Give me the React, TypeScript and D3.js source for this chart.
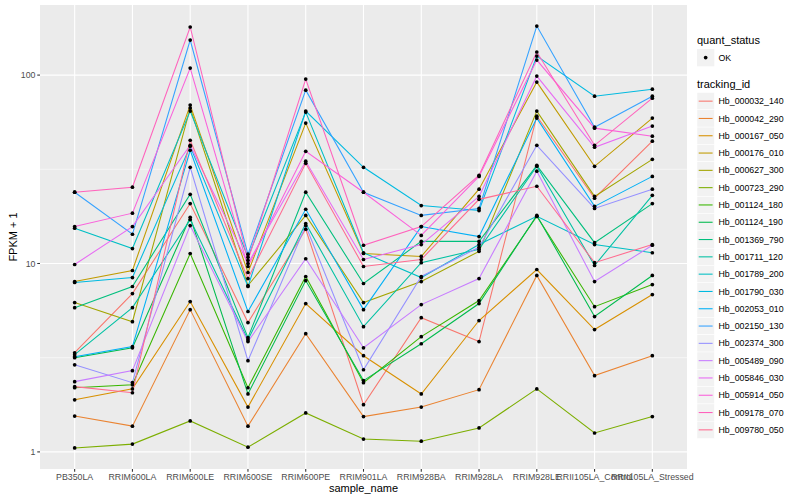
import * as d3 from "d3";

const samples = [
  "PB350LA",
  "RRIM600LA",
  "RRIM600LE",
  "RRIM600SE",
  "RRIM600PE",
  "RRIM901LA",
  "RRIM928BA",
  "RRIM928LA",
  "RRIM928LE",
  "RRII105LA_Control",
  "RRII105LA_Stressed",
];

const trackingIds = [
  "Hb_000032_140",
  "Hb_000042_290",
  "Hb_000167_050",
  "Hb_000176_010",
  "Hb_000627_300",
  "Hb_000723_290",
  "Hb_001124_180",
  "Hb_001124_190",
  "Hb_001369_790",
  "Hb_001711_120",
  "Hb_001789_200",
  "Hb_001790_030",
  "Hb_002053_010",
  "Hb_002150_130",
  "Hb_002374_300",
  "Hb_005489_090",
  "Hb_005846_030",
  "Hb_005914_050",
  "Hb_009178_070",
  "Hb_009780_050",
];

// FPKM + 1, one value per sample
const hb000032_140 = [3.36, 6.92, 20.8, 4.86, 15.2, 1.78, 5.16, 3.85, 60.5, 22.2, 44.6];
const hb000042_290 = [1.55, 1.37, 5.69, 1.37, 4.24, 1.54, 1.73, 2.14, 8.64, 2.54, 3.24];
const hb000167_050 = [1.89, 2.16, 6.28, 1.73, 6.13, 3.24, 2.03, 4.98, 9.29, 4.46, 6.84];
const hb000176_010 = [8.02, 9.18, 69.3, 8.96, 55.6, 11.3, 10.9, 24.8, 91.8, 32.8, 59.1];
const hb000627_300 = [6.2, 4.91, 66.8, 7.64, 18.0, 6.2, 8.02, 11.6, 64.4, 22.7, 35.7];
const hb000723_290 = [1.05, 1.1, 1.46, 1.06, 1.61, 1.17, 1.14, 1.34, 2.16, 1.26, 1.54];
const hb001124_180 = [2.19, 2.27, 11.3, 2.19, 8.53, 2.33, 4.09, 6.36, 17.8, 5.9, 7.73];
const hb001124_190 = [3.16, 3.57, 17.6, 2.03, 8.12, 2.39, 3.75, 6.13, 18.0, 5.23, 8.64];
const hb001369_790 = [5.83, 7.55, 23.3, 4.04, 23.9, 7.83, 13.1, 13.1, 33.2, 12.9, 20.8];
const hb001711_120 = [3.28, 5.83, 17.1, 3.94, 16.3, 4.62, 10.1, 11.9, 32.8, 9.76, 23.0];
const hb001789_200 = [15.4, 12.0, 64.4, 10.8, 63.6, 11.4, 8.42, 12.6, 17.8, 12.6, 11.4];
const hb001790_030 = [7.93, 8.42, 41.9, 7.55, 64.4, 32.4, 20.3, 19.1, 126.2, 77.3, 84.2];
const hb002053_010 = [3.2, 3.62, 39.9, 5.56, 19.4, 5.69, 15.7, 13.9, 59.1, 20.1, 29.0];
const hb002150_130 = [23.9, 14.3, 153.5, 11.2, 83.2, 23.9, 18.0, 19.6, 182, 52.9, 77.3];
const hb002374_300 = [2.9, 2.33, 32.4, 3.05, 15.9, 2.73, 8.53, 12.2, 42.4, 19.6, 24.8];
const hb005489_090 = [2.36, 2.7, 15.9, 3.85, 10.6, 3.57, 6.05, 8.32, 30.9, 8.02, 12.5];
const hb005846_030 = [9.88, 15.7, 42.4, 10.0, 34.9, 10.5, 12.6, 22.7, 98.8, 41.4, 53.6];
const hb005914_050 = [15.7, 18.5, 108.9, 9.64, 39.4, 23.9, 14.1, 29.0, 120.2, 52.3, 47.4];
const hb009178_070 = [23.9, 25.4, 180, 10.4, 95.2, 12.5, 15.7, 29.4, 132.6, 42.4, 75.4];
const hb009780_050 = [2.22, 2.06, 45.1, 8.32, 34.0, 9.64, 10.5, 21.9, 25.7, 10.1, 12.6];

const seriesValues = [
  hb000032_140, hb000042_290, hb000167_050, hb000176_010, hb000627_300,
  hb000723_290, hb001124_180, hb001124_190, hb001369_790, hb001711_120,
  hb001789_200, hb001790_030, hb002053_010, hb002150_130, hb002374_300,
  hb005489_090, hb005846_030, hb005914_050, hb009178_070, hb009780_050,
];

const yTicks = [1, 10, 100];

// ggplot2 default hue palette for 20 levels
const palette = [
  "#F8766D", "#EA8331", "#D89000", "#C09B00", "#A3A500",
  "#7CAE00", "#39B600", "#00BB4E", "#00BF7D", "#00C1A3",
  "#00BFC4", "#00BAE0", "#00B0F6", "#35A2FF", "#9590FF",
  "#C77CFF", "#E76BF3", "#FA62DB", "#FF62BC", "#FF6C90",
];

const W = 800;
const H = 500;
const margin = { top: 5, right: 113, bottom: 31, left: 40 };
const font = "'Liberation Sans', Arial, Helvetica, sans-serif";

const App = () => {
  const right = W - margin.right;
  const bottom = H - margin.bottom;

  const x = d3
    .scalePoint<string>()
    .domain(samples)
    .range([margin.left, right])
    .padding(0.6);

  const [lo, hi] = d3.extent(seriesValues.flat()) as [number, number];
  const pad = (Math.log10(hi) - Math.log10(lo)) * 0.05;
  const y = d3
    .scaleLog()
    .domain([10 ** (Math.log10(lo) - pad), 10 ** (Math.log10(hi) + pad)])
    .range([bottom, margin.top]);

  const minorTicks = [Math.sqrt(10), Math.sqrt(1000)];

  const line = d3
    .line<number>()
    .x((_, i) => x(samples[i]) as number)
    .y((d) => y(d));

  const legX = right + 10;
  const keyH = 17.3;
  const keysTop = 92.5;

  return (
    <svg
      width={W}
      height={H}
      style={{ position: "absolute", left: 0, top: 0, background: "white" }}
      fontFamily={font}
    >
      <rect x={margin.left} y={margin.top} width={right - margin.left} height={bottom - margin.top} fill="#EBEBEB" />
      {minorTicks.map((t) => (
        <line key={"m" + t} x1={margin.left} x2={right} y1={y(t)} y2={y(t)} stroke="white" strokeWidth={0.55} />
      ))}
      {yTicks.map((t) => (
        <line key={"y" + t} x1={margin.left} x2={right} y1={y(t)} y2={y(t)} stroke="white" strokeWidth={1.1} />
      ))}
      {samples.map((s) => (
        <line key={"x" + s} x1={x(s)} x2={x(s)} y1={margin.top} y2={bottom} stroke="white" strokeWidth={1.1} />
      ))}

      {seriesValues.map((vals, i) => (
        <path key={trackingIds[i]} d={line(vals) ?? ""} fill="none" stroke={palette[i]} strokeWidth={1.07} />
      ))}
      {seriesValues.map((vals, i) =>
        vals.map((v, j) => (
          <circle key={i + "-" + j} cx={x(samples[j])} cy={y(v)} r={1.85} fill="black" />
        ))
      )}

      {/* y axis */}
      {yTicks.map((t) => (
        <g key={"yt" + t}>
          <line x1={margin.left - 2.75} x2={margin.left} y1={y(t)} y2={y(t)} stroke="#333333" strokeWidth={1.07} />
          <text x={margin.left - 4.5} y={y(t)} dy="0.35em" textAnchor="end" fontSize={8.8} fill="#4D4D4D">
            {t}
          </text>
        </g>
      ))}
      <text
        transform={`translate(${13},${(margin.top + bottom) / 2}) rotate(-90)`}
        textAnchor="middle"
        fontSize={11}
        dy="0.35em"
      >
        FPKM + 1
      </text>

      {/* x axis */}
      {samples.map((s) => (
        <g key={"xt" + s}>
          <line x1={x(s)} x2={x(s)} y1={bottom} y2={bottom + 2.75} stroke="#333333" strokeWidth={1.07} />
          <text x={x(s)} y={bottom + 11} textAnchor="middle" fontSize={8.8} fill="#4D4D4D">
            {s}
          </text>
        </g>
      ))}
      <text x={(margin.left + right) / 2} y={H - 8} textAnchor="middle" fontSize={11}>
        sample_name
      </text>

      {/* legends */}
      <text x={legX} y={40.5} dy="0.35em" fontSize={11}>
        quant_status
      </text>
      <rect x={legX} y={49} width={17.3} height={17.3} fill="#F2F2F2" />
      <circle cx={legX + 8.65} cy={57.6} r={1.85} fill="black" />
      <text x={legX + 21.5} y={57.6} dy="0.35em" fontSize={8.8}>
        OK
      </text>

      <text x={legX} y={84} dy="0.35em" fontSize={11}>
        tracking_id
      </text>
      {trackingIds.map((id, i) => {
        const ky = keysTop + i * keyH;
        return (
          <g key={"lg" + id}>
            <rect x={legX} y={ky} width={17.3} height={keyH} fill="#F2F2F2" stroke="white" strokeWidth={0.5} />
            <line x1={legX + 1.7} x2={legX + 15.6} y1={ky + keyH / 2} y2={ky + keyH / 2} stroke={palette[i]} strokeWidth={1.07} />
            <text x={legX + 21.5} y={ky + keyH / 2} dy="0.35em" fontSize={8.8}>
              {id}
            </text>
          </g>
        );
      })}
    </svg>
  );
};

export default App;
